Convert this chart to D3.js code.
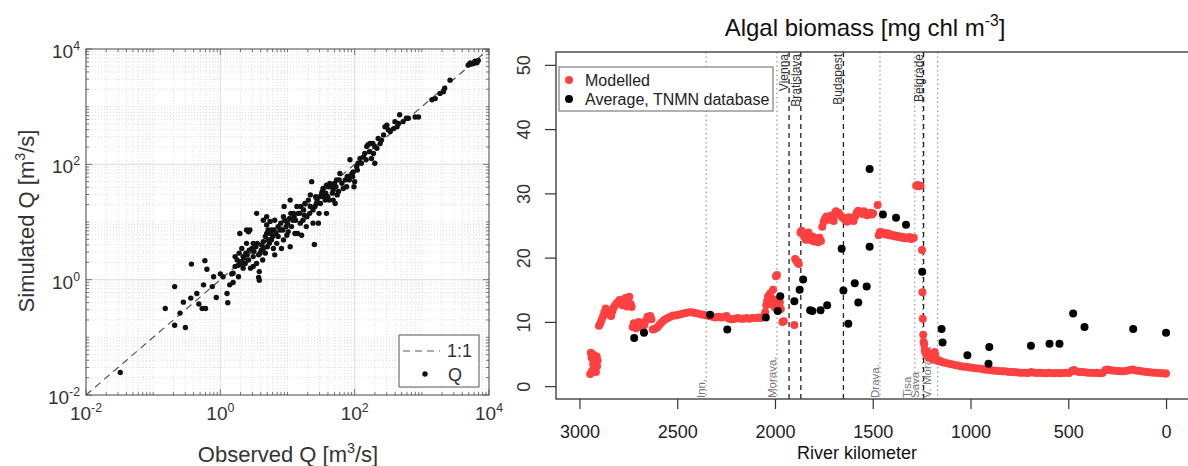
<!DOCTYPE html>
<html>
<head>
<meta charset="utf-8">
<script src="https://cdn.jsdelivr.net/npm/d3@7"></script>
<style>
  body { margin: 0; background: #fff; }
  svg { display: block; }
</style>
</head>
<body>
<svg id="chart" width="1188" height="466"></svg>
<script>
// ---------------------------------------------------------------
// Data
// ---------------------------------------------------------------

// Left panel: discharge, stored as log10 of Q [m3/s]
var obsLogQ = [
  -1.49,-0.82,-0.68,-0.68,-0.60,-0.55,-0.52,-0.43,-0.44,-0.35,
  -0.32,-0.27,-0.22,-0.23,-0.20,-0.25,-0.10,-0.12,-0.06,0.00,
  0.04,0.10,0.11,0.14,0.19,0.17,0.22,0.27,0.30,0.34,
  0.38,0.39,0.42,0.39,0.29,0.32,0.37,0.42,0.45,0.49,
  0.54,0.57,0.58,0.58,0.59,0.62,0.64,0.67,0.69,0.71,
  0.69,0.74,0.76,0.79,0.81,0.84,0.86,0.89,0.91,0.94,
  0.95,0.98,0.99,1.01,1.04,1.05,1.08,1.10,1.14,1.16,
  1.19,1.21,1.24,1.26,1.29,1.31,1.34,1.36,1.41,1.43,
  1.46,1.48,1.51,1.53,1.56,1.58,1.61,1.63,1.68,1.71,
  1.73,1.76,1.78,1.83,1.88,1.91,1.93,1.96,1.98,2.00,
  2.03,2.05,2.08,2.13,2.15,2.18,2.20,2.23,2.25,2.28,
  2.30,2.33,2.35,2.38,2.43,2.45,2.48,2.53,2.58,2.63,
  2.65,2.67,2.72,2.77,2.80,2.90,2.95,3.15,3.20,3.27,
  3.32,3.34,3.42,3.69,3.74,3.77,3.82,
  0.22,0.25,0.28,0.32,0.35,0.40,0.43,0.47,0.50,0.53,
  0.55,0.57,0.61,0.63,0.67,0.70,0.73,0.75,0.78,0.80,
  0.83,0.86,0.90,0.93,0.96,1.00,1.03,1.06,1.09,1.12,
  1.15,1.18,1.20,1.23,1.25,1.28,1.33,1.34,1.38,1.42,
  1.44,1.47,1.49,1.52,1.54,1.57,1.60,1.62,1.65,1.67,
  1.70,1.72,1.74,1.77,1.81,1.86,1.89,1.92,1.97,1.99,
  2.04,2.10,2.17,2.22,2.27,2.30,2.40,2.50,2.60,0.34,
  0.27,0.19,0.49,0.54,0.64,0.71,0.76,0.81,0.49,0.44,
  0.64,0.69,0.94,1.04,1.11,1.38,1.58,1.68,1.40,3.72,
  3.79,3.84
];
var simLogQ = [
  -1.61,-0.50,-0.12,-0.79,-0.58,-0.39,-0.83,0.27,-0.32,-0.24,
  -0.42,-0.50,-0.50,0.33,0.18,-0.09,0.05,-0.12,-0.31,0.10,
  0.05,-0.24,-0.40,-0.09,-0.05,0.10,0.23,0.25,0.31,0.40,
  0.46,0.63,0.83,0.86,0.80,0.54,0.28,0.34,0.20,0.40,
  1.15,0.04,-0.01,0.14,0.46,0.60,0.66,0.75,0.80,0.86,
  0.95,1.01,0.69,0.54,0.43,0.63,0.75,0.86,0.54,1.09,
  1.27,0.92,0.77,0.83,1.38,1.15,1.03,1.09,1.27,1.15,
  0.98,0.77,1.21,1.32,1.09,1.38,1.47,1.70,1.27,1.32,
  0.98,1.44,1.50,1.58,1.38,1.64,1.61,1.67,1.55,1.32,
  1.73,1.53,1.84,1.58,1.61,1.79,2.08,1.84,1.87,1.70,
  1.96,2.02,2.10,2.13,2.19,2.31,2.34,2.36,2.10,2.19,
  2.02,2.28,2.45,2.36,2.51,2.65,2.68,2.57,2.62,2.65,
  2.71,2.86,2.74,2.80,2.80,2.82,2.82,3.12,3.14,3.23,
  3.26,3.32,3.46,3.72,3.74,3.75,3.76,
  0.40,0.34,0.46,0.28,0.37,0.43,0.51,0.54,0.49,0.57,
  0.63,0.43,0.51,0.34,0.46,0.57,0.63,0.80,0.75,0.86,
  0.80,0.92,0.98,0.86,1.03,0.98,1.06,0.92,1.15,1.03,
  0.80,1.15,1.27,1.03,1.12,0.92,1.15,1.27,1.21,1.44,
  1.38,1.15,1.32,1.53,1.44,1.50,1.44,1.38,1.61,1.50,
  1.67,1.61,1.47,1.73,1.67,1.73,1.79,1.73,1.79,1.61,
  1.90,2.02,2.08,2.22,2.36,2.31,2.42,2.60,2.74,0.20,
  0.05,0.11,0.23,0.28,0.54,0.69,0.86,1.03,0.63,0.86,
  1.03,1.09,0.69,0.57,0.80,0.98,1.15,1.38,0.61,3.76,
  3.79,3.80
];
var qDecades = [-2, 0, 2, 4];          // labelled decades

// Right panel: algal biomass along the Danube
var modelKm = [
  2945,2942,2938,2935,2930,2928,2925,2920,2916,2912,2910,2907,
  2900,2893,2887,2880,2873,2866,2860,2852,2845,2838,2832,2825,2818,2810,2802,2795,2788,2780,2772,2765,2758,2752,2745,2738,2733,
  2728,2722,2716,2710,2703,2697,2690,2683,2676,2668,2660,2652,2645,2638,2632,
  2625,2617,2609,2600,2590,2580,2570,2560,2548,2535,2522,2508,2495,2482,2468,2455,2440,2425,2410,2395,
  2380,2365,2350,2335,2320,2305,2290,2275,2260,2248,2235,2220,2205,2190,2175,2160,2145,2130,2115,2100,2085,2072,2060,
  2050,2045,2040,2035,2030,2025,2020,2015,2010,2005,2000,1995,1990,1985,1980,1975,1970,1962,1955,
  1901,1897,1890,1884,1878,1870,1864,1858,1850,1843,1836,1829,1822,1815,1808,1800,1793,1786,1779,1772,
  1765,1758,1751,1744,1737,1730,1722,1715,1708,1700,1694,1688,1681,1674,1667,1660,1652,1645,1638,1630,
  1622,1614,1606,1598,1590,1582,1575,1568,1560,1552,1545,1537,1529,1521,1513,1505,1498,
  1475,1470,1463,1455,1447,1440,1432,1424,1416,1408,1400,1392,1384,1376,1368,1360,1352,1344,1336,1328,1320,1312,1304,1297,1290,
  1278,1272,1266,1260,1255,1248,1246,1244,1242,1240,1237,1234,1230,1226,1222,1218,1213,1208,1203,1198,1193,1188,1184,1180,1175,1170,1165,1160,1150,
  1140,1125,1110,1095,1080,1065,1050,1035,1020,1005,990,975,960,945,930,915,900,885,870,855,
  840,825,810,795,780,765,750,735,720,705,690,675,660,645,630,615,600,585,570,555,
  540,525,510,495,480,470,460,445,430,415,400,385,370,355,340,325,310,300,290,275,
  260,245,230,215,200,185,170,155,140,125,110,95,80,65,50,35,20,5,0
];
var modelChl = [
  1.9,5.2,4.4,2.4,3.5,4.9,2.8,3.9,2.2,4.6,3.1,4.0,
  9.4,9.8,10.3,10.8,11.5,12.1,11.8,11.2,11.4,10.9,11.6,12.2,12.6,12.9,13.1,13.4,13.2,12.6,13.5,13.7,12.4,13.2,13.9,12.8,12.3,
  9.2,9.8,9.5,9.0,9.6,10.0,9.3,9.7,9.1,9.6,10.2,10.8,10.6,10.9,10.4,
  8.8,8.9,9.0,9.2,9.6,9.9,10.2,10.4,10.6,10.8,11.0,11.0,11.1,11.2,11.3,11.4,11.5,11.5,11.4,11.3,
  11.2,11.1,11.0,10.9,10.8,10.7,10.8,10.7,10.8,10.9,10.5,10.4,10.5,10.6,10.5,10.5,10.6,10.5,10.6,10.6,10.7,10.6,10.8,
  11.5,12.6,13.3,14.0,13.0,14.4,12.8,13.6,15.0,13.2,12.2,17.1,17.3,13.5,12.4,13.0,12.0,10.0,10.1,
  9.5,19.8,19.5,19.2,19.0,23.9,24.2,23.6,23.2,22.8,23.5,23.9,23.0,22.7,23.3,22.5,23.0,22.9,22.4,23.1,
  22.6,24.8,25.6,26.1,26.4,26.0,25.9,26.5,26.2,25.7,26.9,27.2,26.8,27.0,26.6,26.4,26.2,26.0,25.8,25.6,
  26.3,26.1,25.9,25.7,26.4,27.0,27.3,27.1,27.0,26.8,27.2,27.0,26.6,26.8,27.0,26.7,26.9,
  28.2,23.5,24.0,23.8,23.9,23.7,23.6,23.8,23.5,23.6,23.4,23.5,23.3,23.4,23.2,23.3,23.1,23.2,23.0,23.1,23.0,23.2,22.9,23.0,23.1,
  31.2,31.3,31.1,31.2,31.2,21.2,14.6,10.5,8.0,6.9,6.5,5.6,5.2,4.9,5.3,4.6,4.8,4.4,4.6,4.3,4.1,4.4,5.3,4.9,4.2,4.0,3.9,4.0,3.8,
  3.7,3.6,3.5,3.4,3.3,3.2,3.1,3.0,3.0,2.9,2.85,2.8,2.75,2.7,2.6,2.55,2.5,2.45,2.4,2.35,
  2.3,2.3,2.25,2.2,2.2,2.15,2.1,2.1,2.1,2.05,2.2,2.1,2.05,2.1,2.05,2.0,2.1,2.05,2.0,2.05,
  2.0,2.05,2.1,2.05,2.4,2.5,2.3,2.2,2.2,2.15,2.1,2.1,2.05,2.1,2.0,2.05,2.5,2.6,2.5,2.45,
  2.4,2.35,2.3,2.3,2.4,2.5,2.6,2.45,2.4,2.3,2.25,2.2,2.15,2.1,2.1,2.05,2.0,1.95,1.95
];
var tnmnKm = [2720,2670,2332,2244,2047,1986,1973,1901,1874,1856,1820,1809,1767,1733,1659,1650,1625,1592,1574,1531,
  1516,1516,1448,1381,1330,1247,1148,1143,1016,904,908,691,596,545,475,417,168,0];
var tnmnChl = [7.5,8.3,11.1,8.8,10.7,11.7,14.0,13.2,15.0,16.6,11.8,11.7,11.8,12.6,21.4,14.9,9.7,16.0,13.0,15.5,
  33.8,21.7,26.7,26.2,25.1,17.8,8.9,6.8,4.8,6.1,3.5,6.3,6.6,6.6,11.3,9.2,8.9,8.3];

var kmTicks = [3000, 2500, 2000, 1500, 1000, 500, 0];
var chlTicks = [0, 10, 20, 30, 40, 50];

var cities = ['Vienna', 'Bratislava', 'Budapest', 'Belgrade'];
var cityKm = [1928, 1868, 1650, 1240];
var tributaries = ['Inn.', 'Morava.', 'Drava.', 'Tisa', 'Sava', 'V. Morava'];
var tributaryKm = [2352, 1990, 1463, 1285, 1245, 1168];

// ---------------------------------------------------------------
// Drawing
// ---------------------------------------------------------------
var font = '"Liberation Sans", Arial, Helvetica, sans-serif';
var svg = d3.select('#chart').attr('font-family', font);

// Text made of plain and raised parts, e.g. m^3
function richText(sel, parts, size) {
  var up = false;
  parts.forEach(function (p) {
    var dy = 0;
    if (p.sup && !up) { dy = -size * 0.42; up = true; }
    else if (!p.sup && up) { dy = size * 0.42; up = false; }
    sel.append('tspan')
      .attr('dy', dy)
      .attr('font-size', p.sup ? size * 0.65 : size)
      .text(p.t);
  });
  return sel;
}

// ===== Left panel: simulated vs observed Q (log-log) =====
var qBox = {left: 86, right: 489, top: 49, bottom: 395};
var xQ = d3.scaleLog().domain([1e-2, 1e4]).range([qBox.left, qBox.right]);
var yQ = d3.scaleLog().domain([1e-2, 1e4]).range([qBox.bottom, qBox.top]);

var gl = svg.append('g').attr('class', 'left-panel');

var majorQ = qDecades.map(function (e) { return Math.pow(10, e); });
var minorQ = [];
d3.range(-2, 4).forEach(function (e) {
  d3.range(1, 10).forEach(function (m) {
    if (m === 1 && qDecades.indexOf(e) >= 0) return;
    minorQ.push(m * Math.pow(10, e));
  });
});

// minor grid, dotted
gl.selectAll('.gx-minor').data(minorQ).enter().append('line')
  .attr('x1', function (d) { return xQ(d); }).attr('x2', function (d) { return xQ(d); })
  .attr('y1', qBox.top).attr('y2', qBox.bottom)
  .attr('stroke', '#d6d6d6').attr('stroke-width', 0.8).attr('stroke-dasharray', '1,2');
gl.selectAll('.gy-minor').data(minorQ).enter().append('line')
  .attr('y1', function (d) { return yQ(d); }).attr('y2', function (d) { return yQ(d); })
  .attr('x1', qBox.left).attr('x2', qBox.right)
  .attr('stroke', '#d6d6d6').attr('stroke-width', 0.8).attr('stroke-dasharray', '1,2');

// major grid, solid
gl.selectAll('.gx-major').data(majorQ).enter().append('line')
  .attr('x1', function (d) { return xQ(d); }).attr('x2', function (d) { return xQ(d); })
  .attr('y1', qBox.top).attr('y2', qBox.bottom)
  .attr('stroke', '#e2e2e2').attr('stroke-width', 1.2);
gl.selectAll('.gy-major').data(majorQ).enter().append('line')
  .attr('y1', function (d) { return yQ(d); }).attr('y2', function (d) { return yQ(d); })
  .attr('x1', qBox.left).attr('x2', qBox.right)
  .attr('stroke', '#e2e2e2').attr('stroke-width', 1.2);

// ticks pointing inwards on all four sides
function qTicks(vals, len) {
  vals.forEach(function (d) {
    var x = xQ(d), y = yQ(d);
    gl.append('line').attr('x1', x).attr('x2', x).attr('y1', qBox.bottom).attr('y2', qBox.bottom - len);
    gl.append('line').attr('x1', x).attr('x2', x).attr('y1', qBox.top).attr('y2', qBox.top + len);
    gl.append('line').attr('y1', y).attr('y2', y).attr('x1', qBox.left).attr('x2', qBox.left + len);
    gl.append('line').attr('y1', y).attr('y2', y).attr('x1', qBox.right).attr('x2', qBox.right - len);
  });
}
qTicks(minorQ, 3);
qTicks(majorQ, 6);
gl.selectAll('line').filter(function () { return !this.getAttribute('stroke'); })
  .attr('stroke', '#555').attr('stroke-width', 0.8);

// 1:1 line
gl.append('line')
  .attr('x1', xQ(1e-2)).attr('y1', yQ(1e-2))
  .attr('x2', xQ(1e4)).attr('y2', yQ(1e4))
  .attr('stroke', '#555').attr('stroke-width', 1.2).attr('stroke-dasharray', '7,5');

// points
gl.selectAll('.q-dot').data(obsLogQ).enter().append('circle')
  .attr('class', 'q-dot')
  .attr('cx', function (d) { return xQ(Math.pow(10, d)); })
  .attr('cy', function (d, i) { return yQ(Math.pow(10, simLogQ[i])); })
  .attr('r', 2.7)
  .attr('fill', '#111');

// box
gl.append('rect')
  .attr('x', qBox.left).attr('y', qBox.top)
  .attr('width', qBox.right - qBox.left).attr('height', qBox.bottom - qBox.top)
  .attr('fill', 'none').attr('stroke', '#555').attr('stroke-width', 1);

// tick labels 10^k
qDecades.forEach(function (e) {
  richText(gl.append('text')
    .attr('x', xQ(Math.pow(10, e))).attr('y', 420)
    .attr('text-anchor', 'middle').attr('fill', '#333'),
    [{t: '10'}, {t: String(e), sup: true}], 19);
  richText(gl.append('text')
    .attr('x', 80).attr('y', yQ(Math.pow(10, e)) + 9)
    .attr('text-anchor', 'end').attr('fill', '#333'),
    [{t: '10'}, {t: String(e), sup: true}], 19);
});

// axis titles
richText(gl.append('text')
  .attr('x', 288).attr('y', 462)
  .attr('text-anchor', 'middle').attr('fill', '#333'),
  [{t: 'Observed Q [m'}, {t: '3', sup: true}, {t: '/s]'}], 22);
richText(gl.append('text')
  .attr('transform', 'translate(34,221) rotate(-90)')
  .attr('text-anchor', 'middle').attr('fill', '#333'),
  [{t: 'Simulated Q [m'}, {t: '3', sup: true}, {t: '/s]'}], 22);

// legend
var lq = gl.append('g');
lq.append('rect')
  .attr('x', 399).attr('y', 335).attr('width', 80).attr('height', 52)
  .attr('fill', '#fff').attr('stroke', '#555').attr('stroke-width', 1);
lq.append('line')
  .attr('x1', 403).attr('x2', 440).attr('y1', 351).attr('y2', 351)
  .attr('stroke', '#555').attr('stroke-width', 1.2).attr('stroke-dasharray', '7,5');
lq.append('text').attr('x', 447).attr('y', 357).attr('font-size', 18).attr('fill', '#333').text('1:1');
lq.append('circle').attr('cx', 425).attr('cy', 374).attr('r', 2.7).attr('fill', '#111');
lq.append('text').attr('x', 448).attr('y', 381).attr('font-size', 18).attr('fill', '#333').text('Q');

// ===== Right panel: algal biomass along the river =====
var rBox = {left: 556, right: 1189.5, top: 52, bottom: 399};
var xKm = d3.scaleLinear().domain([3120, -120]).range([rBox.left, rBox.right]);
var yChl = d3.scaleLinear().domain([-2, 52]).range([rBox.bottom, rBox.top]);

var gr = svg.append('g').attr('class', 'right-panel');

// tributary confluences (dotted) and cities (dashed)
gr.selectAll('.trib').data(tributaryKm).enter().append('line')
  .attr('x1', function (d) { return xKm(d); }).attr('x2', function (d) { return xKm(d); })
  .attr('y1', rBox.top).attr('y2', rBox.bottom)
  .attr('stroke', '#999').attr('stroke-width', 1.2).attr('stroke-dasharray', '1.5,3');
gr.selectAll('.city').data(cityKm).enter().append('line')
  .attr('x1', function (d) { return xKm(d); }).attr('x2', function (d) { return xKm(d); })
  .attr('y1', rBox.top).attr('y2', rBox.bottom)
  .attr('stroke', '#222').attr('stroke-width', 1.3).attr('stroke-dasharray', '5,4');

// labels written upwards: tributaries from the bottom, cities from the top
var tribNudge = {'Tisa': -2.5, 'Sava': -2.5, 'V. Morava': -6};
tributaries.forEach(function (name, i) {
  var x = xKm(tributaryKm[i]) - 1 + (tribNudge[name] || 0);
  gr.append('text')
    .attr('transform', 'translate(' + x + ',' + (rBox.bottom - 1) + ') rotate(-90)')
    .attr('font-size', 11.5).attr('fill', '#777')
    .text(name);
});
cities.forEach(function (name, i) {
  var x = xKm(cityKm[i]) - 1;
  gr.append('text')
    .attr('transform', 'translate(' + x + ',' + (rBox.top + 2) + ') rotate(-90)')
    .attr('text-anchor', 'end')
    .attr('font-size', 12).attr('fill', '#333')
    .text(name);
});

// modelled values
gr.selectAll('.model').data(modelKm).enter().append('circle')
  .attr('class', 'model')
  .attr('cx', function (d) { return xKm(d); })
  .attr('cy', function (d, i) { return yChl(modelChl[i]); })
  .attr('r', 4)
  .attr('fill', '#ff4040');

// TNMN averages
gr.selectAll('.tnmn').data(tnmnKm).enter().append('circle')
  .attr('class', 'tnmn')
  .attr('cx', function (d) { return xKm(d); })
  .attr('cy', function (d, i) { return yChl(tnmnChl[i]); })
  .attr('r', 4)
  .attr('fill', '#000');

// axes
gr.append('g')
  .attr('transform', 'translate(0,' + rBox.bottom + ')')
  .call(d3.axisBottom(xKm).tickValues(kmTicks).tickSize(10).tickPadding(16).tickFormat(d3.format('d')))
  .attr('font-size', 18).attr('font-family', font)
  .call(function (g) {
    g.select('.domain').remove();
    g.selectAll('line').attr('stroke', '#333').attr('stroke-width', 1.2);
    g.selectAll('text').attr('fill', '#222');
  });

gr.append('g')
  .attr('transform', 'translate(' + rBox.left + ',0)')
  .call(d3.axisLeft(yChl).tickValues(chlTicks).tickSize(11))
  .attr('font-size', 18).attr('font-family', font)
  .call(function (g) {
    g.select('.domain').remove();
    g.selectAll('line').attr('stroke', '#333').attr('stroke-width', 1.2);
    g.selectAll('text')
      .attr('transform', 'rotate(-90)')
      .attr('x', 0).attr('y', -26).attr('dy', 0)
      .attr('text-anchor', 'middle')
      .attr('fill', '#333');
  });

gr.append('rect')
  .attr('x', rBox.left).attr('y', rBox.top)
  .attr('width', rBox.right - rBox.left).attr('height', rBox.bottom - rBox.top)
  .attr('fill', 'none').attr('stroke', '#333').attr('stroke-width', 1.3);

// legend
var lr = gr.append('g');
lr.append('rect')
  .attr('x', 559).attr('y', 67).attr('width', 214).attr('height', 44)
  .attr('fill', '#fff').attr('stroke', '#888').attr('stroke-width', 1.3);
lr.append('circle').attr('cx', 569).attr('cy', 80).attr('r', 4).attr('fill', '#ff4040');
lr.append('circle').attr('cx', 569).attr('cy', 99).attr('r', 4).attr('fill', '#000');
lr.append('text').attr('x', 585).attr('y', 86).attr('font-size', 16).attr('fill', '#222').text('Modelled');
lr.append('text').attr('x', 585).attr('y', 105).attr('font-size', 16).attr('fill', '#222').text('Average, TNMN database');

// titles
richText(gr.append('text')
  .attr('x', 865).attr('y', 36)
  .attr('text-anchor', 'middle').attr('fill', '#111'),
  [{t: 'Algal biomass [mg chl m'}, {t: '-3', sup: true}, {t: ']'}], 24);
gr.append('text')
  .attr('x', 857).attr('y', 459)
  .attr('text-anchor', 'middle').attr('font-size', 18).attr('fill', '#111')
  .text('River kilometer');
</script>
</body>
</html>
